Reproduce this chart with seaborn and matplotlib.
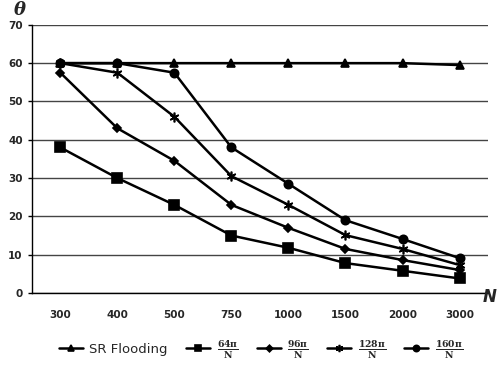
import numpy as np
import pandas as pd
import matplotlib
matplotlib.use("Agg")
import matplotlib.pyplot as plt
import seaborn as sns

# data
n_values = ["300", "400", "500", "750", "1000", "1500", "2000", "3000"]
sr_flooding = [60, 60, 60, 60, 60, 60, 60, 59.5]
theta_64 = [38, 30, 23, 15, 11.8, 7.8, 5.8, 3.8]
theta_96 = [57.5, 43, 34.5, 23, 17, 11.5, 8.6, 6]
theta_128 = [60, 57.5, 46, 30.5, 23, 15.1, 11.5, 7.3]
theta_160 = [60, 60, 57.5, 38, 28.5, 19, 14.1, 9.1]

series = [
    ("SR Flooding", sr_flooding, "^", 6),
    (r"$\frac{\mathbf{64\pi}}{\mathbf{N}}$", theta_64, "s", 6.5),
    (r"$\frac{\mathbf{96\pi}}{\mathbf{N}}$", theta_96, "D", 4.5),
    (r"$\frac{\mathbf{128\pi}}{\mathbf{N}}$", theta_128, (6, 2, 0), 7),
    (r"$\frac{\mathbf{160\pi}}{\mathbf{N}}$", theta_160, "o", 6),
]

sns.set_theme(style="white")
plt.rcParams["font.family"] = ["DejaVu Sans"]
plt.rcParams["mathtext.fontset"] = "dejavuserif"

fig = plt.figure(figsize=(4.97, 3.82), dpi=100)
ax = fig.add_axes([0.064, 0.233, 0.918, 0.702])

pos = np.arange(len(n_values))
for label, vals, mk, ms in series:
    df = pd.DataFrame({"n": pos, "theta": vals})
    sns.lineplot(data=df, x="n", y="theta", ax=ax, color="black", linewidth=1.8,
                 marker=mk, markersize=ms, markeredgecolor="black",
                 markeredgewidth=1.2, label=label)

ax.set_xlim(-0.5, len(n_values) - 0.5)
ax.set_ylim(0, 70)
ax.set_yticks(range(0, 71, 10))
ax.set_xticks(pos)
ax.set_xticklabels(n_values)
ax.set_xticks(np.arange(-0.5, len(n_values), 1), minor=True)
ax.tick_params(axis="x", which="major", length=0, pad=12)
ax.tick_params(axis="x", which="minor", length=3, width=1, direction="out", color="black")
ax.tick_params(axis="y", length=3, width=1, color="black", left=True)
for lab in ax.get_xticklabels() + ax.get_yticklabels():
    lab.set_fontweight("bold")
    lab.set_fontsize(7.5)
ax.set_xlabel("")
ax.set_ylabel("")
ax.yaxis.grid(True, color="#444444", linewidth=1)
ax.set_axisbelow(True)
for side in ["top", "right"]:
    ax.spines[side].set_visible(False)
for side in ["left", "bottom"]:
    ax.spines[side].set_color("black")
    ax.spines[side].set_linewidth(1)

fig.text(0.028, 0.998, "θ", fontsize=13, fontweight="bold", va="top",
         ha="left", style="italic", family="DejaVu Serif")
fig.text(0.972, 0.222, "N", fontsize=12, fontweight="bold", style="italic",
         va="center", ha="left")

handles, labels = ax.get_legend_handles_labels()
ax.get_legend().remove()
fig.legend(handles, labels, loc="center", bbox_to_anchor=(0.525, 0.085), ncol=5,
           frameon=False, fontsize=9.5, handlelength=1.8, columnspacing=1.4,
           handletextpad=0.5, markerscale=0.75)

fig.savefig("out.png", dpi=100)
